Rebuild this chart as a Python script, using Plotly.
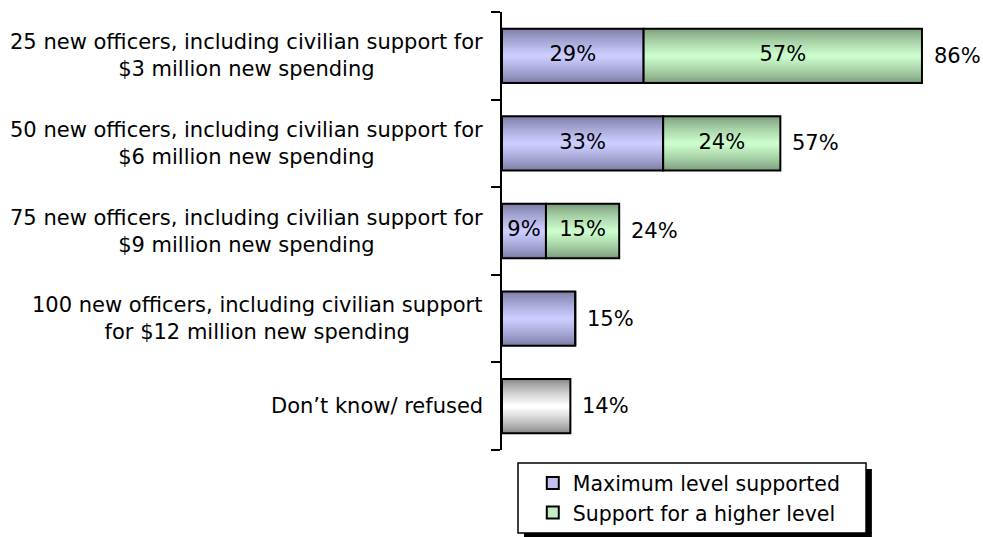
import plotly.graph_objects as go

# Survey results: level of new police spending supported
categories = [
    "25 new officers, including civilian support for<br>$3 million new spending",
    "50 new officers, including civilian support for<br>$6 million new spending",
    "75 new officers, including civilian support for<br>$9 million new spending",
    "100 new officers, including civilian support<br>for $12 million new spending",
    "Don\u2019t know/ refused",
]
max_supported = [29, 33, 9, 15, 0]
higher_level = [57, 24, 15, 0, 0]
dont_know = [0, 0, 0, 0, 14]
series_names = ["Maximum level supported", "Support for a higher level"]

FONT = "DejaVu Sans"
FS = 21
BAR_W = 0.62
N_LAYERS = 14

ypos = list(range(len(categories)))
totals = [a + b + c for a, b, c in zip(max_supported, higher_level, dont_know)]
base_max = [0] * len(categories)
base_high = [a for a in max_supported]
base_dk = [0] * len(categories)


def mix(c1, c2, t):
    return "rgb(%d,%d,%d)" % tuple(round(a + (b - a) * t) for a, b in zip(c1, c2))


# (edge colour, centre colour) for each gradient fill
palettes = {
    "max": ((0x7c, 0x7c, 0xa6), (0xcc, 0xcc, 0xff)),
    "high": ((0x7c, 0x9e, 0x7c), (0xcc, 0xfc, 0xcc)),
    "dk": ((0x88, 0x88, 0x88), (0xff, 0xff, 0xff)),
}

segments = [
    (max_supported, base_max, "max"),
    (higher_level, base_high, "high"),
    (dont_know, base_dk, "dk"),
]

fig = go.Figure()

# Layered bars of shrinking thickness give a vertical gradient fill
for vals, bases, key in segments:
    edge, centre = palettes[key]
    for k in range(N_LAYERS):
        t = k / (N_LAYERS - 1)
        w = BAR_W * (1 - k / N_LAYERS)
        fig.add_trace(go.Bar(
            x=vals, y=ypos, base=bases, orientation="h",
            width=[w] * len(ypos),
            marker=dict(color=mix(edge, centre, t ** 0.8), line=dict(width=0)),
            showlegend=False, hoverinfo="skip",
        ))
    # black outline over each segment
    fig.add_trace(go.Bar(
        x=vals, y=ypos, base=bases, orientation="h",
        width=[BAR_W] * len(ypos),
        marker=dict(color="rgba(0,0,0,0)", line=dict(color="black", width=2)),
        showlegend=False, hoverinfo="skip",
    ))

# Legend entries
for name, key in zip(series_names, ["max", "high"]):
    fig.add_trace(go.Bar(
        x=[None], y=[None], orientation="h", name=name,
        marker=dict(color=mix(*palettes[key], 0.85), line=dict(color="black", width=2)),
    ))

# Segment value labels, centred in each segment
for vals, bases, key in segments:
    xs, ys, ts = [], [], []
    for i, (v, b) in enumerate(zip(vals, bases)):
        if v > 0 and key != "dk" and totals[i] != v:
            xs.append(b + v / 2)
            ys.append(i)
            ts.append(f"{v}%")
    fig.add_trace(go.Scatter(
        x=xs, y=ys, text=ts, mode="text", textposition="middle center",
        textfont=dict(family=FONT, size=FS, color="black"),
        showlegend=False, hoverinfo="skip",
    ))

# Totals to the right of each bar
for i, t in enumerate(totals):
    fig.add_annotation(
        x=t, y=i, xref="x", yref="y", text=f"{t}%", showarrow=False,
        xanchor="left", yanchor="middle", xshift=10,
        font=dict(family=FONT, size=FS, color="black"),
    )

# Category labels, centred multi-line text right-aligned to the axis
for i, lab in enumerate(categories):
    fig.add_annotation(
        x=-0.035, xref="paper", y=i, yref="y", text=lab, showarrow=False,
        xanchor="right", yanchor="middle", align="center",
        font=dict(family=FONT, size=FS, color="black"),
    )

# Legend frame with a drop shadow
fig.add_shape(type="rect", xref="paper", yref="paper",
              x0=0.0457, x1=0.769, y0=-0.2, y1=-0.0434,
              fillcolor="black", line=dict(width=0), layer="below")
fig.add_shape(type="rect", xref="paper", yref="paper",
              x0=0.0333, x1=0.7568, y0=-0.1895, y1=-0.0297,
              fillcolor="white", line=dict(color="black", width=1.5), layer="below")

fig.update_layout(
    width=983, height=537,
    margin=dict(l=502, r=0, t=12, b=87),
    barmode="overlay",
    plot_bgcolor="white", paper_bgcolor="white",
    font=dict(family=FONT, size=FS, color="black"),
    showlegend=True,
    legend=dict(
        x=0.064, y=-0.03, xanchor="left", yanchor="top",
        bgcolor="rgba(0,0,0,0)", borderwidth=0,
        font=dict(family=FONT, size=20.5, color="black"),
        itemwidth=30, tracegroupgap=0,
    ),
    xaxis=dict(range=[0, 98.5], visible=False, fixedrange=True),
    yaxis=dict(
        range=[4.5, -0.5], showticklabels=False, showgrid=False, zeroline=False,
        showline=True, linecolor="black", linewidth=2,
        tickmode="array", tickvals=[-0.5, 0.5, 1.5, 2.5, 3.5, 4.5],
        ticks="outside", ticklen=9, tickwidth=2, tickcolor="black",
    ),
)

fig.write_html("out.html")
